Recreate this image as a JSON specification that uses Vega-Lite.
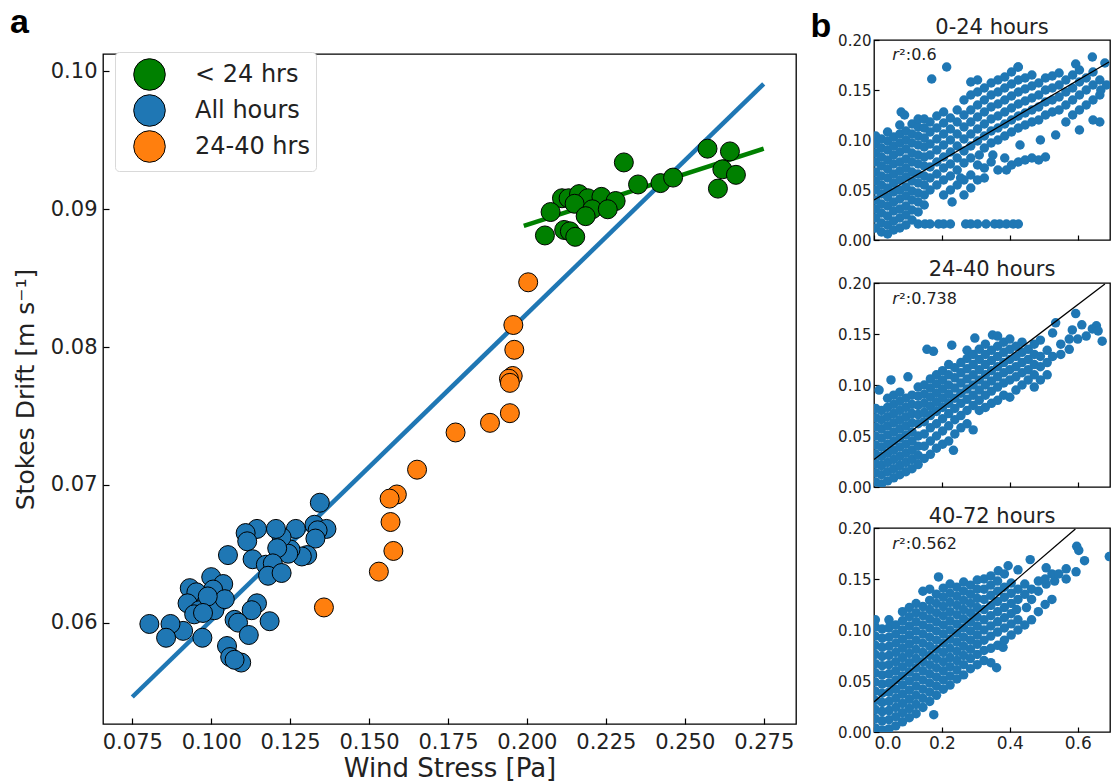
{
"$schema":"https://vega.github.io/schema/vega-lite/v6.json",
"background":"white",
"padding":{"left":10,"top":6,"right":0,"bottom":0},
"config":{"view":{"stroke":"black","strokeWidth":1.3},
"axis":{"domain":false,"grid":false,"tickColor":"black","tickWidth":1.2,"labelColor":"#222","titleColor":"#222","labelFont":"DejaVu Sans","titleFont":"DejaVu Sans","titleFontWeight":"normal"},
"title":{"color":"#222","font":"DejaVu Sans","fontWeight":"normal"}},
"datasets":{
"a":[
{"g":"< 24 hrs","x":0.2572,"y":0.0944},{"g":"< 24 hrs","x":0.2643,"y":0.0942},{"g":"< 24 hrs","x":0.2307,"y":0.0934},{"g":"< 24 hrs","x":0.2619,"y":0.0929},{"g":"< 24 hrs","x":0.2662,"y":0.0925},{"g":"< 24 hrs","x":0.2605,"y":0.0915},{"g":"< 24 hrs","x":0.2352,"y":0.0918},{"g":"< 24 hrs","x":0.2423,"y":0.0919},{"g":"< 24 hrs","x":0.2463,"y":0.0923},{"g":"< 24 hrs","x":0.2111,"y":0.0908},{"g":"< 24 hrs","x":0.2132,"y":0.0908},{"g":"< 24 hrs","x":0.2165,"y":0.0911},{"g":"< 24 hrs","x":0.2193,"y":0.0908},{"g":"< 24 hrs","x":0.2236,"y":0.0909},{"g":"< 24 hrs","x":0.2281,"y":0.0906},{"g":"< 24 hrs","x":0.2151,"y":0.0904},{"g":"< 24 hrs","x":0.2207,"y":0.09},{"g":"< 24 hrs","x":0.2256,"y":0.09},{"g":"< 24 hrs","x":0.2186,"y":0.0895},{"g":"< 24 hrs","x":0.2075,"y":0.0898},{"g":"< 24 hrs","x":0.2057,"y":0.0881},{"g":"< 24 hrs","x":0.2118,"y":0.0885},{"g":"< 24 hrs","x":0.2136,"y":0.0884},{"g":"< 24 hrs","x":0.2153,"y":0.088},
{"g":"24-40 hrs","x":0.2004,"y":0.0847},{"g":"24-40 hrs","x":0.1957,"y":0.0816},{"g":"24-40 hrs","x":0.196,"y":0.0798},{"g":"24-40 hrs","x":0.1955,"y":0.0779},{"g":"24-40 hrs","x":0.1943,"y":0.0777},{"g":"24-40 hrs","x":0.1946,"y":0.0774},{"g":"24-40 hrs","x":0.1946,"y":0.0752},{"g":"24-40 hrs","x":0.1883,"y":0.0745},{"g":"24-40 hrs","x":0.1774,"y":0.0738},{"g":"24-40 hrs","x":0.1652,"y":0.0711},{"g":"24-40 hrs","x":0.1588,"y":0.0693},{"g":"24-40 hrs","x":0.1565,"y":0.069},{"g":"24-40 hrs","x":0.1568,"y":0.0673},{"g":"24-40 hrs","x":0.1577,"y":0.0652},{"g":"24-40 hrs","x":0.1531,"y":0.0637},{"g":"24-40 hrs","x":0.1357,"y":0.0611},
{"g":"All hours","x":0.1344,"y":0.0687},{"g":"All hours","x":0.1327,"y":0.0671},{"g":"All hours","x":0.1365,"y":0.0668},{"g":"All hours","x":0.1337,"y":0.0667},{"g":"All hours","x":0.133,"y":0.0661},{"g":"All hours","x":0.1304,"y":0.0649},{"g":"All hours","x":0.1287,"y":0.0648},{"g":"All hours","x":0.1268,"y":0.0668},{"g":"All hours","x":0.1251,"y":0.0653},{"g":"All hours","x":0.1244,"y":0.065},{"g":"All hours","x":0.1223,"y":0.0662},{"g":"All hours","x":0.1209,"y":0.0654},{"g":"All hours","x":0.1205,"y":0.0668},{"g":"All hours","x":0.1145,"y":0.0668},{"g":"All hours","x":0.1109,"y":0.0665},{"g":"All hours","x":0.1114,"y":0.0659},{"g":"All hours","x":0.1131,"y":0.0646},{"g":"All hours","x":0.1173,"y":0.0642},{"g":"All hours","x":0.1195,"y":0.0643},{"g":"All hours","x":0.118,"y":0.0634},{"g":"All hours","x":0.1223,"y":0.0636},{"g":"All hours","x":0.1053,"y":0.0649},{"g":"All hours","x":0.1,"y":0.0633},{"g":"All hours","x":0.1038,"y":0.0628},{"g":"All hours","x":0.1006,"y":0.0624},{"g":"All hours","x":0.0932,"y":0.0625},{"g":"All hours","x":0.0953,"y":0.0622},{"g":"All hours","x":0.0925,"y":0.0614},{"g":"All hours","x":0.0984,"y":0.0614},{"g":"All hours","x":0.0963,"y":0.0609},{"g":"All hours","x":0.0946,"y":0.0606},{"g":"All hours","x":0.101,"y":0.0609},{"g":"All hours","x":0.1043,"y":0.0617},{"g":"All hours","x":0.1145,"y":0.0614},{"g":"All hours","x":0.1128,"y":0.0609},{"g":"All hours","x":0.1074,"y":0.0602},{"g":"All hours","x":0.1085,"y":0.06},{"g":"All hours","x":0.1185,"y":0.0601},{"g":"All hours","x":0.1119,"y":0.0591},{"g":"All hours","x":0.0972,"y":0.0589},{"g":"All hours","x":0.0911,"y":0.0594},{"g":"All hours","x":0.0871,"y":0.0599},{"g":"All hours","x":0.0804,"y":0.0599},{"g":"All hours","x":0.0857,"y":0.0589},{"g":"All hours","x":0.105,"y":0.0583},{"g":"All hours","x":0.106,"y":0.0575},{"g":"All hours","x":0.1095,"y":0.0571},{"g":"All hours","x":0.1074,"y":0.0573},{"g":"All hours","x":0.0989,"y":0.0619},{"g":"All hours","x":0.0974,"y":0.0607}
],
"la":[{"x":0.075,"y":0.0546},{"x":0.275,"y":0.0991}],
"lg":[{"x":0.199,"y":0.0888},{"x":0.275,"y":0.0944}],
"b1":[
{"x":0.005,"y":0.012},{"x":0.005,"y":0.022},{"x":0.005,"y":0.031},{"x":0.005,"y":0.04},{"x":0.005,"y":0.05},{"x":0.005,"y":0.059},{"x":0.005,"y":0.068},{"x":0.005,"y":0.078},{"x":0.005,"y":0.087},{"x":0.005,"y":0.096},{"x":0.005,"y":0.104},
{"x":0.022,"y":0.008},{"x":0.022,"y":0.017},{"x":0.022,"y":0.027},{"x":0.022,"y":0.036},{"x":0.022,"y":0.046},{"x":0.022,"y":0.055},{"x":0.022,"y":0.064},{"x":0.022,"y":0.074},{"x":0.022,"y":0.083},{"x":0.022,"y":0.092},{"x":0.022,"y":0.101},
{"x":0.04,"y":0.006},{"x":0.04,"y":0.015},{"x":0.04,"y":0.024},{"x":0.04,"y":0.034},{"x":0.04,"y":0.043},{"x":0.04,"y":0.052},{"x":0.04,"y":0.062},{"x":0.04,"y":0.071},{"x":0.04,"y":0.08},{"x":0.04,"y":0.09},{"x":0.04,"y":0.099},{"x":0.04,"y":0.108},
{"x":0.058,"y":0.01},{"x":0.058,"y":0.019},{"x":0.058,"y":0.029},{"x":0.058,"y":0.038},{"x":0.058,"y":0.048},{"x":0.058,"y":0.057},{"x":0.058,"y":0.066},{"x":0.058,"y":0.076},{"x":0.058,"y":0.085},{"x":0.058,"y":0.094},{"x":0.058,"y":0.103},
{"x":0.076,"y":0.012},{"x":0.076,"y":0.022},{"x":0.076,"y":0.031},{"x":0.076,"y":0.041},{"x":0.076,"y":0.05},{"x":0.076,"y":0.06},{"x":0.076,"y":0.069},{"x":0.076,"y":0.078},{"x":0.076,"y":0.088},{"x":0.076,"y":0.097},{"x":0.076,"y":0.106},{"x":0.076,"y":0.115},{"x":0.08,"y":0.128},
{"x":0.094,"y":0.015},{"x":0.094,"y":0.025},{"x":0.094,"y":0.034},{"x":0.094,"y":0.044},{"x":0.094,"y":0.053},{"x":0.094,"y":0.063},{"x":0.094,"y":0.072},{"x":0.094,"y":0.081},{"x":0.094,"y":0.091},{"x":0.094,"y":0.1},{"x":0.094,"y":0.109},{"x":0.09,"y":0.125},
{"x":0.112,"y":0.02},{"x":0.112,"y":0.03},{"x":0.112,"y":0.04},{"x":0.112,"y":0.049},{"x":0.112,"y":0.059},{"x":0.112,"y":0.068},{"x":0.112,"y":0.078},{"x":0.112,"y":0.087},{"x":0.112,"y":0.097},{"x":0.112,"y":0.106},{"x":0.112,"y":0.116},
{"x":0.13,"y":0.028},{"x":0.13,"y":0.038},{"x":0.13,"y":0.047},{"x":0.13,"y":0.057},{"x":0.13,"y":0.066},{"x":0.13,"y":0.076},{"x":0.13,"y":0.085},{"x":0.13,"y":0.095},{"x":0.13,"y":0.104},{"x":0.13,"y":0.113},{"x":0.13,"y":0.121},
{"x":0.148,"y":0.035},{"x":0.148,"y":0.045},{"x":0.148,"y":0.055},{"x":0.148,"y":0.064},{"x":0.148,"y":0.074},{"x":0.148,"y":0.083},{"x":0.148,"y":0.093},{"x":0.148,"y":0.102},{"x":0.148,"y":0.112},{"x":0.148,"y":0.121},
{"x":0.165,"y":0.05},{"x":0.165,"y":0.062},{"x":0.165,"y":0.073},{"x":0.165,"y":0.085},{"x":0.165,"y":0.096},{"x":0.165,"y":0.108},{"x":0.165,"y":0.118},
{"x":0.185,"y":0.055},{"x":0.185,"y":0.066},{"x":0.185,"y":0.078},{"x":0.185,"y":0.09},{"x":0.185,"y":0.101},{"x":0.185,"y":0.112},{"x":0.185,"y":0.124},
{"x":0.205,"y":0.045},{"x":0.205,"y":0.06},{"x":0.205,"y":0.072},{"x":0.205,"y":0.083},{"x":0.205,"y":0.095},{"x":0.205,"y":0.106},{"x":0.205,"y":0.117},{"x":0.205,"y":0.128},
{"x":0.225,"y":0.05},{"x":0.225,"y":0.064},{"x":0.225,"y":0.076},{"x":0.225,"y":0.088},{"x":0.225,"y":0.1},{"x":0.225,"y":0.111},{"x":0.225,"y":0.122},
{"x":0.245,"y":0.055},{"x":0.245,"y":0.07},{"x":0.245,"y":0.082},{"x":0.245,"y":0.094},{"x":0.245,"y":0.106},{"x":0.245,"y":0.118},{"x":0.245,"y":0.13},
{"x":0.265,"y":0.045},{"x":0.265,"y":0.06},{"x":0.265,"y":0.077},{"x":0.265,"y":0.089},{"x":0.265,"y":0.101},{"x":0.265,"y":0.113},{"x":0.265,"y":0.125},{"x":0.265,"y":0.14},
{"x":0.285,"y":0.052},{"x":0.285,"y":0.065},{"x":0.285,"y":0.082},{"x":0.285,"y":0.094},{"x":0.285,"y":0.106},{"x":0.285,"y":0.118},{"x":0.285,"y":0.13},{"x":0.285,"y":0.145},{"x":0.285,"y":0.158},
{"x":0.305,"y":0.06},{"x":0.305,"y":0.075},{"x":0.305,"y":0.099},{"x":0.305,"y":0.111},{"x":0.305,"y":0.123},{"x":0.305,"y":0.135},{"x":0.305,"y":0.148},{"x":0.305,"y":0.16},
{"x":0.325,"y":0.062},{"x":0.325,"y":0.072},{"x":0.325,"y":0.092},{"x":0.325,"y":0.104},{"x":0.325,"y":0.116},{"x":0.325,"y":0.128},{"x":0.325,"y":0.14},{"x":0.325,"y":0.152},
{"x":0.345,"y":0.078},{"x":0.345,"y":0.097},{"x":0.345,"y":0.109},{"x":0.345,"y":0.121},{"x":0.345,"y":0.133},{"x":0.345,"y":0.145},{"x":0.345,"y":0.157},
{"x":0.365,"y":0.07},{"x":0.365,"y":0.1},{"x":0.365,"y":0.112},{"x":0.365,"y":0.124},{"x":0.365,"y":0.136},{"x":0.365,"y":0.148},{"x":0.365,"y":0.16},
{"x":0.385,"y":0.082},{"x":0.385,"y":0.104},{"x":0.385,"y":0.116},{"x":0.385,"y":0.128},{"x":0.385,"y":0.14},{"x":0.385,"y":0.152},{"x":0.385,"y":0.163},
{"x":0.405,"y":0.075},{"x":0.405,"y":0.108},{"x":0.405,"y":0.12},{"x":0.405,"y":0.132},{"x":0.405,"y":0.144},{"x":0.405,"y":0.156},{"x":0.405,"y":0.168},
{"x":0.425,"y":0.078},{"x":0.425,"y":0.112},{"x":0.425,"y":0.124},{"x":0.425,"y":0.136},{"x":0.425,"y":0.148},{"x":0.425,"y":0.16},{"x":0.425,"y":0.173},
{"x":0.445,"y":0.08},{"x":0.445,"y":0.115},{"x":0.445,"y":0.127},{"x":0.445,"y":0.139},{"x":0.445,"y":0.151},{"x":0.445,"y":0.162},
{"x":0.465,"y":0.082},{"x":0.465,"y":0.118},{"x":0.465,"y":0.13},{"x":0.465,"y":0.142},{"x":0.465,"y":0.154},{"x":0.465,"y":0.165},
{"x":0.485,"y":0.08},{"x":0.485,"y":0.12},{"x":0.485,"y":0.133},{"x":0.485,"y":0.145},{"x":0.485,"y":0.157},
{"x":0.505,"y":0.083},{"x":0.505,"y":0.125},{"x":0.505,"y":0.138},{"x":0.505,"y":0.15},{"x":0.505,"y":0.162},
{"x":0.525,"y":0.128},{"x":0.525,"y":0.14},{"x":0.525,"y":0.152},{"x":0.525,"y":0.164},
{"x":0.545,"y":0.13},{"x":0.545,"y":0.143},{"x":0.545,"y":0.155},{"x":0.545,"y":0.167},
{"x":0.565,"y":0.118},{"x":0.565,"y":0.135},{"x":0.565,"y":0.148},{"x":0.565,"y":0.16},
{"x":0.585,"y":0.125},{"x":0.585,"y":0.14},{"x":0.585,"y":0.152},{"x":0.585,"y":0.165},{"x":0.594,"y":0.176},
{"x":0.605,"y":0.11},{"x":0.605,"y":0.13},{"x":0.605,"y":0.145},{"x":0.605,"y":0.158},{"x":0.605,"y":0.17},
{"x":0.625,"y":0.135},{"x":0.625,"y":0.15},{"x":0.625,"y":0.162},
{"x":0.645,"y":0.12},{"x":0.645,"y":0.14},{"x":0.645,"y":0.155},{"x":0.645,"y":0.168},{"x":0.643,"y":0.183},
{"x":0.665,"y":0.118},{"x":0.665,"y":0.145},{"x":0.665,"y":0.16},{"x":0.668,"y":0.15},{"x":0.685,"y":0.155},{"x":0.68,"y":0.177},
{"x":0.13,"y":0.016},{"x":0.15,"y":0.016},{"x":0.165,"y":0.016},{"x":0.19,"y":0.016},{"x":0.205,"y":0.016},{"x":0.225,"y":0.016},{"x":0.27,"y":0.016},{"x":0.285,"y":0.016},{"x":0.305,"y":0.016},{"x":0.33,"y":0.016},{"x":0.355,"y":0.016},{"x":0.37,"y":0.016},{"x":0.39,"y":0.016},{"x":0.41,"y":0.016},{"x":0.425,"y":0.016},
{"x":0.17,"y":0.161},{"x":0.214,"y":0.173},{"x":0.424,"y":0.173},{"x":0.23,"y":0.038},{"x":0.255,"y":0.062},{"x":0.31,"y":0.085},{"x":0.35,"y":0.085},{"x":0.39,"y":0.07},{"x":0.43,"y":0.095},{"x":0.49,"y":0.1},{"x":0.535,"y":0.105}
],
"b2":[
{"x":0.005,"y":0.005},{"x":0.005,"y":0.014},{"x":0.005,"y":0.023},{"x":0.005,"y":0.032},{"x":0.005,"y":0.041},{"x":0.005,"y":0.05},{"x":0.005,"y":0.059},{"x":0.005,"y":0.068},{"x":0.005,"y":0.077},
{"x":0.022,"y":0.003},{"x":0.022,"y":0.012},{"x":0.022,"y":0.021},{"x":0.022,"y":0.03},{"x":0.022,"y":0.039},{"x":0.022,"y":0.048},{"x":0.022,"y":0.057},{"x":0.022,"y":0.066},{"x":0.022,"y":0.075},{"x":0.015,"y":0.095},
{"x":0.04,"y":0.006},{"x":0.04,"y":0.015},{"x":0.04,"y":0.024},{"x":0.04,"y":0.033},{"x":0.04,"y":0.042},{"x":0.04,"y":0.051},{"x":0.04,"y":0.06},{"x":0.04,"y":0.069},{"x":0.04,"y":0.078},{"x":0.04,"y":0.087},
{"x":0.058,"y":0.009},{"x":0.058,"y":0.018},{"x":0.058,"y":0.027},{"x":0.058,"y":0.036},{"x":0.058,"y":0.045},{"x":0.058,"y":0.054},{"x":0.058,"y":0.063},{"x":0.058,"y":0.072},{"x":0.058,"y":0.081},{"x":0.058,"y":0.09},{"x":0.05,"y":0.105},
{"x":0.076,"y":0.012},{"x":0.076,"y":0.021},{"x":0.076,"y":0.03},{"x":0.076,"y":0.039},{"x":0.076,"y":0.048},{"x":0.076,"y":0.057},{"x":0.076,"y":0.066},{"x":0.076,"y":0.075},{"x":0.076,"y":0.084},{"x":0.076,"y":0.093},
{"x":0.094,"y":0.015},{"x":0.094,"y":0.024},{"x":0.094,"y":0.033},{"x":0.094,"y":0.042},{"x":0.094,"y":0.051},{"x":0.094,"y":0.06},{"x":0.094,"y":0.069},{"x":0.094,"y":0.078},{"x":0.094,"y":0.087},
{"x":0.112,"y":0.018},{"x":0.112,"y":0.027},{"x":0.112,"y":0.036},{"x":0.112,"y":0.045},{"x":0.112,"y":0.054},{"x":0.112,"y":0.063},{"x":0.112,"y":0.072},{"x":0.112,"y":0.081},{"x":0.112,"y":0.09},{"x":0.1,"y":0.108},
{"x":0.13,"y":0.022},{"x":0.13,"y":0.031},{"x":0.13,"y":0.04},{"x":0.13,"y":0.05},{"x":0.13,"y":0.062},{"x":0.13,"y":0.071},{"x":0.13,"y":0.08},{"x":0.13,"y":0.089},{"x":0.13,"y":0.098},
{"x":0.148,"y":0.028},{"x":0.148,"y":0.04},{"x":0.148,"y":0.052},{"x":0.148,"y":0.064},{"x":0.148,"y":0.073},{"x":0.148,"y":0.082},{"x":0.148,"y":0.091},{"x":0.148,"y":0.1},{"x":0.156,"y":0.135},
{"x":0.166,"y":0.032},{"x":0.166,"y":0.045},{"x":0.166,"y":0.058},{"x":0.166,"y":0.07},{"x":0.166,"y":0.079},{"x":0.166,"y":0.088},{"x":0.166,"y":0.097},{"x":0.166,"y":0.106},{"x":0.175,"y":0.133},
{"x":0.184,"y":0.038},{"x":0.184,"y":0.05},{"x":0.184,"y":0.062},{"x":0.184,"y":0.074},{"x":0.184,"y":0.083},{"x":0.184,"y":0.092},{"x":0.184,"y":0.101},{"x":0.184,"y":0.11},
{"x":0.202,"y":0.042},{"x":0.202,"y":0.055},{"x":0.202,"y":0.067},{"x":0.202,"y":0.078},{"x":0.202,"y":0.087},{"x":0.202,"y":0.096},{"x":0.202,"y":0.105},{"x":0.202,"y":0.114},
{"x":0.22,"y":0.045},{"x":0.22,"y":0.06},{"x":0.22,"y":0.072},{"x":0.22,"y":0.082},{"x":0.22,"y":0.091},{"x":0.22,"y":0.1},{"x":0.22,"y":0.11},{"x":0.22,"y":0.12},
{"x":0.234,"y":0.036},{"x":0.238,"y":0.052},{"x":0.238,"y":0.066},{"x":0.238,"y":0.077},{"x":0.238,"y":0.087},{"x":0.238,"y":0.097},{"x":0.238,"y":0.107},{"x":0.238,"y":0.117},{"x":0.229,"y":0.139},
{"x":0.256,"y":0.058},{"x":0.256,"y":0.07},{"x":0.256,"y":0.082},{"x":0.256,"y":0.092},{"x":0.256,"y":0.102},{"x":0.256,"y":0.112},{"x":0.256,"y":0.122},
{"x":0.274,"y":0.062},{"x":0.274,"y":0.075},{"x":0.274,"y":0.086},{"x":0.274,"y":0.096},{"x":0.274,"y":0.106},{"x":0.274,"y":0.116},{"x":0.274,"y":0.126},{"x":0.274,"y":0.134},
{"x":0.292,"y":0.056},{"x":0.292,"y":0.08},{"x":0.292,"y":0.09},{"x":0.292,"y":0.1},{"x":0.292,"y":0.11},{"x":0.292,"y":0.12},{"x":0.292,"y":0.13},{"x":0.297,"y":0.146},
{"x":0.31,"y":0.075},{"x":0.31,"y":0.085},{"x":0.31,"y":0.095},{"x":0.31,"y":0.105},{"x":0.31,"y":0.115},{"x":0.31,"y":0.125},{"x":0.31,"y":0.135},
{"x":0.328,"y":0.078},{"x":0.328,"y":0.09},{"x":0.328,"y":0.1},{"x":0.328,"y":0.11},{"x":0.328,"y":0.12},{"x":0.328,"y":0.13},{"x":0.328,"y":0.14},
{"x":0.346,"y":0.082},{"x":0.346,"y":0.094},{"x":0.346,"y":0.104},{"x":0.346,"y":0.114},{"x":0.346,"y":0.124},{"x":0.346,"y":0.134},{"x":0.349,"y":0.149},
{"x":0.364,"y":0.085},{"x":0.364,"y":0.098},{"x":0.364,"y":0.108},{"x":0.364,"y":0.118},{"x":0.364,"y":0.128},{"x":0.364,"y":0.138},{"x":0.364,"y":0.148},
{"x":0.382,"y":0.09},{"x":0.382,"y":0.102},{"x":0.382,"y":0.112},{"x":0.382,"y":0.122},{"x":0.382,"y":0.132},{"x":0.382,"y":0.142},
{"x":0.4,"y":0.088},{"x":0.4,"y":0.105},{"x":0.4,"y":0.115},{"x":0.4,"y":0.125},{"x":0.4,"y":0.135},{"x":0.4,"y":0.145},
{"x":0.418,"y":0.095},{"x":0.418,"y":0.108},{"x":0.418,"y":0.118},{"x":0.418,"y":0.128},{"x":0.418,"y":0.138},
{"x":0.436,"y":0.1},{"x":0.436,"y":0.112},{"x":0.436,"y":0.122},{"x":0.436,"y":0.132},{"x":0.436,"y":0.142},
{"x":0.454,"y":0.105},{"x":0.454,"y":0.115},{"x":0.454,"y":0.125},{"x":0.454,"y":0.135},
{"x":0.472,"y":0.098},{"x":0.472,"y":0.11},{"x":0.472,"y":0.12},{"x":0.472,"y":0.13},{"x":0.472,"y":0.14},
{"x":0.49,"y":0.105},{"x":0.49,"y":0.118},{"x":0.49,"y":0.128},{"x":0.49,"y":0.144},
{"x":0.51,"y":0.11},{"x":0.51,"y":0.122},{"x":0.51,"y":0.134},
{"x":0.526,"y":0.128},{"x":0.526,"y":0.151},{"x":0.535,"y":0.161},{"x":0.55,"y":0.13},{"x":0.55,"y":0.14},
{"x":0.575,"y":0.135},{"x":0.575,"y":0.145},{"x":0.584,"y":0.154},{"x":0.594,"y":0.17},{"x":0.6,"y":0.145},{"x":0.612,"y":0.159},
{"x":0.625,"y":0.148},{"x":0.643,"y":0.155},{"x":0.655,"y":0.158},{"x":0.66,"y":0.153},{"x":0.672,"y":0.143}
],
"b3":[
{"x":0.004,"y":0.004},{"x":0.004,"y":0.013},{"x":0.004,"y":0.022},{"x":0.004,"y":0.031},{"x":0.004,"y":0.04},{"x":0.004,"y":0.049},{"x":0.004,"y":0.058},{"x":0.004,"y":0.067},{"x":0.004,"y":0.076},{"x":0.004,"y":0.085},{"x":0.004,"y":0.094},{"x":0.004,"y":0.103},{"x":0.004,"y":0.11},
{"x":0.024,"y":0.002},{"x":0.024,"y":0.011},{"x":0.024,"y":0.02},{"x":0.024,"y":0.029},{"x":0.024,"y":0.038},{"x":0.024,"y":0.047},{"x":0.024,"y":0.056},{"x":0.024,"y":0.065},{"x":0.024,"y":0.074},{"x":0.024,"y":0.083},{"x":0.024,"y":0.092},{"x":0.024,"y":0.101},
{"x":0.044,"y":0.003},{"x":0.044,"y":0.012},{"x":0.044,"y":0.021},{"x":0.044,"y":0.03},{"x":0.044,"y":0.039},{"x":0.044,"y":0.048},{"x":0.044,"y":0.057},{"x":0.044,"y":0.066},{"x":0.044,"y":0.075},{"x":0.044,"y":0.084},{"x":0.044,"y":0.093},{"x":0.044,"y":0.102},{"x":0.044,"y":0.11},
{"x":0.064,"y":0.006},{"x":0.064,"y":0.015},{"x":0.064,"y":0.024},{"x":0.064,"y":0.033},{"x":0.064,"y":0.042},{"x":0.064,"y":0.051},{"x":0.064,"y":0.06},{"x":0.064,"y":0.069},{"x":0.064,"y":0.078},{"x":0.064,"y":0.087},{"x":0.064,"y":0.096},{"x":0.064,"y":0.105},
{"x":0.084,"y":0.01},{"x":0.084,"y":0.019},{"x":0.084,"y":0.028},{"x":0.084,"y":0.037},{"x":0.084,"y":0.046},{"x":0.084,"y":0.055},{"x":0.084,"y":0.064},{"x":0.084,"y":0.073},{"x":0.084,"y":0.082},{"x":0.084,"y":0.091},{"x":0.084,"y":0.1},{"x":0.084,"y":0.109},{"x":0.084,"y":0.118},
{"x":0.104,"y":0.014},{"x":0.104,"y":0.023},{"x":0.104,"y":0.032},{"x":0.104,"y":0.041},{"x":0.104,"y":0.05},{"x":0.104,"y":0.059},{"x":0.104,"y":0.068},{"x":0.104,"y":0.077},{"x":0.104,"y":0.086},{"x":0.104,"y":0.095},{"x":0.104,"y":0.104},{"x":0.104,"y":0.113},{"x":0.104,"y":0.122},
{"x":0.124,"y":0.018},{"x":0.124,"y":0.027},{"x":0.124,"y":0.036},{"x":0.124,"y":0.045},{"x":0.124,"y":0.054},{"x":0.124,"y":0.063},{"x":0.124,"y":0.072},{"x":0.124,"y":0.081},{"x":0.124,"y":0.09},{"x":0.124,"y":0.099},{"x":0.124,"y":0.108},{"x":0.124,"y":0.117},{"x":0.124,"y":0.126},
{"x":0.144,"y":0.024},{"x":0.144,"y":0.033},{"x":0.144,"y":0.042},{"x":0.144,"y":0.051},{"x":0.144,"y":0.06},{"x":0.144,"y":0.069},{"x":0.144,"y":0.078},{"x":0.144,"y":0.087},{"x":0.144,"y":0.096},{"x":0.144,"y":0.105},{"x":0.144,"y":0.114},{"x":0.144,"y":0.123},{"x":0.144,"y":0.138},
{"x":0.164,"y":0.03},{"x":0.164,"y":0.039},{"x":0.164,"y":0.048},{"x":0.164,"y":0.057},{"x":0.164,"y":0.066},{"x":0.164,"y":0.075},{"x":0.164,"y":0.084},{"x":0.164,"y":0.093},{"x":0.164,"y":0.102},{"x":0.164,"y":0.111},{"x":0.164,"y":0.12},{"x":0.164,"y":0.129},{"x":0.164,"y":0.14},{"x":0.176,"y":0.017},
{"x":0.184,"y":0.036},{"x":0.184,"y":0.045},{"x":0.184,"y":0.054},{"x":0.184,"y":0.063},{"x":0.184,"y":0.072},{"x":0.184,"y":0.081},{"x":0.184,"y":0.09},{"x":0.184,"y":0.099},{"x":0.184,"y":0.108},{"x":0.184,"y":0.117},{"x":0.184,"y":0.126},{"x":0.184,"y":0.135},{"x":0.19,"y":0.152},
{"x":0.204,"y":0.042},{"x":0.204,"y":0.051},{"x":0.204,"y":0.06},{"x":0.204,"y":0.069},{"x":0.204,"y":0.078},{"x":0.204,"y":0.087},{"x":0.204,"y":0.096},{"x":0.204,"y":0.105},{"x":0.204,"y":0.114},{"x":0.204,"y":0.123},{"x":0.204,"y":0.132},{"x":0.204,"y":0.141},
{"x":0.224,"y":0.046},{"x":0.224,"y":0.055},{"x":0.224,"y":0.064},{"x":0.224,"y":0.073},{"x":0.224,"y":0.082},{"x":0.224,"y":0.091},{"x":0.224,"y":0.1},{"x":0.224,"y":0.109},{"x":0.224,"y":0.118},{"x":0.224,"y":0.127},{"x":0.224,"y":0.136},{"x":0.224,"y":0.145},
{"x":0.244,"y":0.052},{"x":0.244,"y":0.061},{"x":0.244,"y":0.07},{"x":0.244,"y":0.079},{"x":0.244,"y":0.088},{"x":0.244,"y":0.097},{"x":0.244,"y":0.106},{"x":0.244,"y":0.115},{"x":0.244,"y":0.124},{"x":0.244,"y":0.133},{"x":0.244,"y":0.142},
{"x":0.264,"y":0.056},{"x":0.264,"y":0.066},{"x":0.264,"y":0.075},{"x":0.264,"y":0.084},{"x":0.264,"y":0.093},{"x":0.264,"y":0.102},{"x":0.264,"y":0.111},{"x":0.264,"y":0.12},{"x":0.264,"y":0.129},{"x":0.264,"y":0.138},{"x":0.264,"y":0.147},
{"x":0.284,"y":0.062},{"x":0.284,"y":0.072},{"x":0.284,"y":0.081},{"x":0.284,"y":0.09},{"x":0.284,"y":0.099},{"x":0.284,"y":0.108},{"x":0.284,"y":0.117},{"x":0.284,"y":0.126},{"x":0.284,"y":0.135},{"x":0.284,"y":0.144},
{"x":0.304,"y":0.066},{"x":0.304,"y":0.076},{"x":0.304,"y":0.086},{"x":0.304,"y":0.095},{"x":0.304,"y":0.104},{"x":0.304,"y":0.113},{"x":0.304,"y":0.122},{"x":0.304,"y":0.131},{"x":0.304,"y":0.14},{"x":0.304,"y":0.149},
{"x":0.324,"y":0.07},{"x":0.324,"y":0.08},{"x":0.324,"y":0.09},{"x":0.324,"y":0.1},{"x":0.324,"y":0.11},{"x":0.324,"y":0.12},{"x":0.324,"y":0.13},{"x":0.324,"y":0.14},{"x":0.324,"y":0.15},
{"x":0.344,"y":0.068},{"x":0.344,"y":0.082},{"x":0.344,"y":0.094},{"x":0.344,"y":0.104},{"x":0.344,"y":0.114},{"x":0.344,"y":0.124},{"x":0.344,"y":0.134},{"x":0.344,"y":0.144},{"x":0.344,"y":0.153},
{"x":0.361,"y":0.063},{"x":0.364,"y":0.085},{"x":0.364,"y":0.098},{"x":0.364,"y":0.108},{"x":0.364,"y":0.118},{"x":0.364,"y":0.128},{"x":0.364,"y":0.138},{"x":0.364,"y":0.148},{"x":0.366,"y":0.158},
{"x":0.38,"y":0.083},{"x":0.384,"y":0.09},{"x":0.384,"y":0.102},{"x":0.384,"y":0.112},{"x":0.384,"y":0.122},{"x":0.384,"y":0.132},{"x":0.384,"y":0.142},{"x":0.384,"y":0.155},{"x":0.395,"y":0.163},
{"x":0.404,"y":0.095},{"x":0.404,"y":0.106},{"x":0.404,"y":0.116},{"x":0.404,"y":0.126},{"x":0.404,"y":0.136},{"x":0.404,"y":0.146},
{"x":0.424,"y":0.1},{"x":0.424,"y":0.11},{"x":0.42,"y":0.12},{"x":0.424,"y":0.13},{"x":0.424,"y":0.14},{"x":0.424,"y":0.159},
{"x":0.444,"y":0.105},{"x":0.449,"y":0.122},{"x":0.444,"y":0.135},{"x":0.444,"y":0.145},
{"x":0.464,"y":0.11},{"x":0.464,"y":0.13},{"x":0.464,"y":0.14},{"x":0.46,"y":0.169},
{"x":0.484,"y":0.118},{"x":0.484,"y":0.138},{"x":0.484,"y":0.148},
{"x":0.504,"y":0.125},{"x":0.507,"y":0.145},{"x":0.504,"y":0.15},{"x":0.507,"y":0.161},
{"x":0.524,"y":0.13},{"x":0.532,"y":0.148},{"x":0.524,"y":0.155},
{"x":0.544,"y":0.155},{"x":0.566,"y":0.16},{"x":0.566,"y":0.15},{"x":0.595,"y":0.157},{"x":0.597,"y":0.182},{"x":0.603,"y":0.178},{"x":0.62,"y":0.168},{"x":0.693,"y":0.172}
],
"f1":[{"x":0,"y":0.04},{"x":0.692,"y":0.178}],
"f2":[{"x":0,"y":0.027},{"x":0.68,"y":0.199}],
"f3":[{"x":0,"y":0.0295},{"x":0.593,"y":0.199}],
"t1":[{"x":0.054,"y":0.185,"r":"r","v":"²:0.6"}],
"t2":[{"x":0.054,"y":0.184,"r":"r","v":"²:0.738"}],
"t3":[{"x":0.054,"y":0.184,"r":"r","v":"²:0.562"}]
},
"spacing":13,
"hconcat":[
{
"spacing":0,
"vconcat":[
{"width":693,"height":13,"data":{"values":[{"k":1}]},"mark":{"type":"point","opacity":0},"view":{"stroke":null},
"title":{"text":"a","anchor":"start","frame":"group","fontSize":34,"fontWeight":"bold","font":"Liberation Sans","color":"black","offset":0,"dx":-93}},
{
"width":693,"height":670,
"encoding":{
"x":{"field":"x","type":"quantitative","scale":{"domain":[0.06572,0.28523],"nice":false,"zero":false},
"axis":{"values":[0.075,0.1,0.125,0.15,0.175,0.2,0.225,0.25,0.275],"format":".3f","labelFontSize":21,"tickSize":-6,"labelPadding":13,"title":"Wind Stress [Pa]","titleFontSize":26,"titlePadding":3}},
"y":{"field":"y","type":"quantitative","scale":{"domain":[0.05264,0.10127],"nice":false,"zero":false},
"axis":{"values":[0.06,0.07,0.08,0.09,0.1],"format":".2f","labelFontSize":21,"tickSize":-6,"labelPadding":12,"title":"Stokes Drift [m s⁻¹]","titleFontSize":25,"titlePadding":12}}
},
"layer":[
{"data":{"name":"la"},"mark":{"type":"line","color":"#1f77b4","strokeWidth":4.5},"encoding":{}},
{"data":{"name":"lg"},"mark":{"type":"line","color":"#008000","strokeWidth":4.5},"encoding":{}},
{"data":{"name":"a"},"mark":{"type":"point","filled":true,"size":361,"opacity":1,"stroke":"black","strokeWidth":1},
"encoding":{"color":{"field":"g","type":"nominal","scale":{"domain":["< 24 hrs","All hours","24-40 hrs"],"range":["#008000","#1f77b4","#ff7f0e"]},
"legend":{"title":null,"orient":"top-left","offset":12,"symbolSize":1000,"symbolType":"circle","symbolStrokeColor":"black","symbolStrokeWidth":1,"labelFontSize":24,"labelFont":"DejaVu Sans","labelColor":"#222","labelOffset":29,"symbolOffset":12,"rowPadding":-1,"padding":6,"strokeColor":"#d9d9d9","fillColor":"white","cornerRadius":4}}}}
]
}
]
},
{
"title":{"text":"b","orient":"left","anchor":"end","angle":0,"align":"right","baseline":"top","fontSize":34,"fontWeight":"bold","font":"Liberation Sans","color":"black","offset":8,"dx":23,"dy":-6,"frame":"bounds"},
"spacing":9,
"vconcat":[
{"width":236,"height":200,"title":{"text":"0-24 hours","fontSize":21,"offset":-5},
"encoding":{"x":{"field":"x","type":"quantitative","scale":{"domain":[0,0.695],"nice":false,"zero":false},"axis":{"values":[0,0.2,0.4,0.6],"labels":false,"title":null,"tickSize":-5}},
"y":{"field":"y","type":"quantitative","scale":{"domain":[0,0.2],"nice":false,"zero":false},"axis":{"values":[0,0.05,0.1,0.15,0.2],"format":".2f","labelFontSize":15,"tickSize":-5,"labelPadding":8,"title":null}}},
"layer":[
{"data":{"name":"b1"},"mark":{"type":"circle","size":90,"opacity":1,"color":"#1f77b4","clip":true}},
{"data":{"name":"f1"},"mark":{"type":"line","color":"black","strokeWidth":1.3,"clip":true},"encoding":{}},
{"data":{"name":"t1"},"mark":{"type":"text","align":"left","baseline":"middle","fontSize":16,"font":"DejaVu Sans","fontStyle":"italic","color":"#222"},"encoding":{"text":{"field":"r"}}},
{"data":{"name":"t1"},"mark":{"type":"text","align":"left","baseline":"middle","fontSize":16,"font":"DejaVu Sans","color":"#222","dx":7},"encoding":{"text":{"field":"v"}}}
]},
{"width":236,"height":204,"title":{"text":"24-40 hours","fontSize":21,"offset":-4},
"encoding":{"x":{"field":"x","type":"quantitative","scale":{"domain":[0,0.695],"nice":false,"zero":false},"axis":{"values":[0,0.2,0.4,0.6],"labels":false,"title":null,"tickSize":-5}},
"y":{"field":"y","type":"quantitative","scale":{"domain":[0,0.2],"nice":false,"zero":false},"axis":{"values":[0,0.05,0.1,0.15,0.2],"format":".2f","labelFontSize":15,"tickSize":-5,"labelPadding":8,"title":null}}},
"layer":[
{"data":{"name":"b2"},"mark":{"type":"circle","size":90,"opacity":1,"color":"#1f77b4","clip":true}},
{"data":{"name":"f2"},"mark":{"type":"line","color":"black","strokeWidth":1.3,"clip":true},"encoding":{}},
{"data":{"name":"t2"},"mark":{"type":"text","align":"left","baseline":"middle","fontSize":16,"font":"DejaVu Sans","fontStyle":"italic","color":"#222"},"encoding":{"text":{"field":"r"}}},
{"data":{"name":"t2"},"mark":{"type":"text","align":"left","baseline":"middle","fontSize":16,"font":"DejaVu Sans","color":"#222","dx":7},"encoding":{"text":{"field":"v"}}}
]},
{"width":236,"height":204,"title":{"text":"40-72 hours","fontSize":21,"offset":-6},
"encoding":{"x":{"field":"x","type":"quantitative","scale":{"domain":[0,0.695],"nice":false,"zero":false},"axis":{"values":[0,0.2,0.4,0.6],"format":".1f","labelFontSize":17,"tickSize":-5,"labelPadding":8,"title":null}},
"y":{"field":"y","type":"quantitative","scale":{"domain":[0,0.2],"nice":false,"zero":false},"axis":{"values":[0,0.05,0.1,0.15,0.2],"format":".2f","labelFontSize":15,"tickSize":-5,"labelPadding":8,"title":null}}},
"layer":[
{"data":{"name":"b3"},"mark":{"type":"circle","size":90,"opacity":1,"color":"#1f77b4","clip":true}},
{"data":{"name":"f3"},"mark":{"type":"line","color":"black","strokeWidth":1.3,"clip":true},"encoding":{}},
{"data":{"name":"t3"},"mark":{"type":"text","align":"left","baseline":"middle","fontSize":16,"font":"DejaVu Sans","fontStyle":"italic","color":"#222"},"encoding":{"text":{"field":"r"}}},
{"data":{"name":"t3"},"mark":{"type":"text","align":"left","baseline":"middle","fontSize":16,"font":"DejaVu Sans","color":"#222","dx":7},"encoding":{"text":{"field":"v"}}}
]}
]
}
]
}
